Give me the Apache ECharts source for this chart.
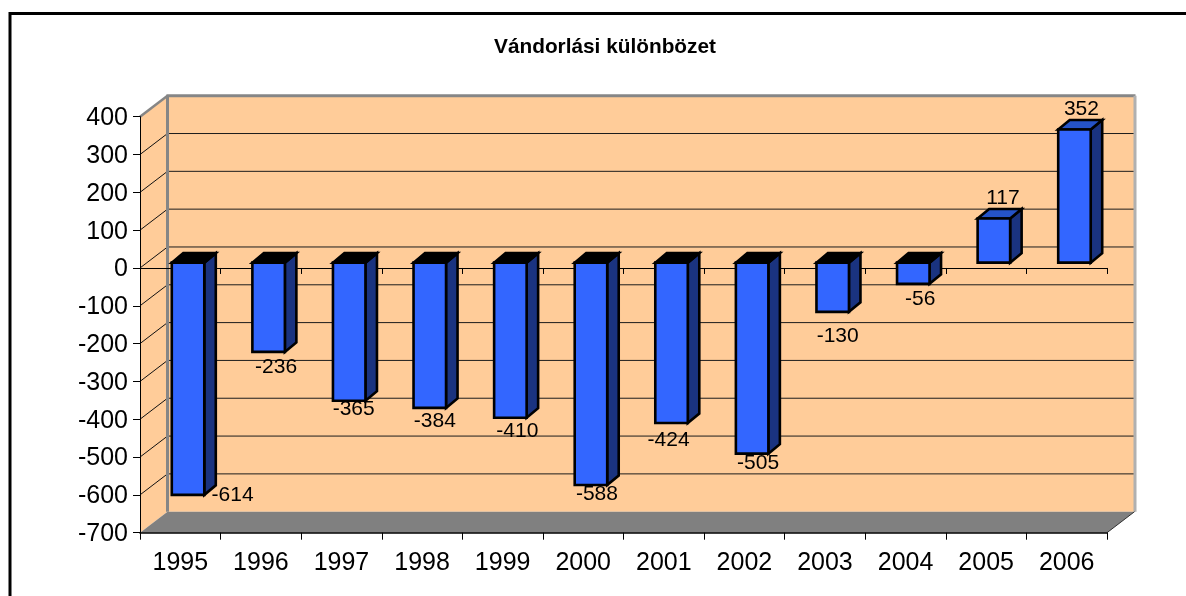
<!DOCTYPE html>
<html>
<head>
<meta charset="utf-8">
<style>html,body{margin:0;padding:0;background:#fff}#c{width:1186px;height:596px}</style>
<script src="https://cdn.jsdelivr.net/npm/echarts@6/dist/echarts.min.js"></script>
</head>
<body>
<div id="c"></div>
<script>
const titleText = 'Vándorlási különbözet';
const years = ['1995','1996','1997','1998','1999','2000','2001','2002','2003','2004','2005','2006'];
const migration = [-614,-236,-365,-384,-410,-588,-424,-505,-130,-56,117,352];
const yTicks = [400,300,200,100,0,-100,-200,-300,-400,-500,-600,-700];

// Layout of the pseudo-3D look (not data)
const FONT = '"Liberation Sans", Arial, sans-serif';
const WALL = {dx: 27.5, dy: -21};
const BAR = {left: -8.5, width: 32.5, dx: 11.5, dy: -9.5, lift: -5.3};
const labelShift = [[44.5,0],[7.5,15],[4.5,8],[5,13],[7,13],[6,9],[-3,17],[6,10],[5,24],[7,15],[9,-20],[7,-20]];
const COLORS = {wall:'#FFCC99', floor:'#808080', frame:'#868686', front:'#3366FF', sideDark:'#1A3380', topPos:'#2553C8', topNeg:'#000000', grid:'#1c1c1c'};

function poly(points, fill, stroke, lw, z2) {
  return {type:'polygon', shape:{points}, z2:z2||0, style:{fill, stroke:stroke||'none', lineWidth:lw||0, lineJoin:'miter'}};
}
function line(a, b, stroke, lw, z2) {
  return {type:'line', shape:{x1:a[0],y1:a[1],x2:b[0],y2:b[1]}, z2:z2||0, style:{stroke, lineWidth:lw, fill:'none'}};
}

function renderWalls(params, api) {
  const g = params.coordSys;
  const x0=g.x, x1=g.x+g.width, yT=g.y, yB=g.y+g.height;
  const bx0=x0+WALL.dx, bx1=x1+WALL.dx, byT=yT+WALL.dy, byB=yB+WALL.dy;
  return {type:'group', children:[
    poly([[bx0,byT],[bx1,byT],[bx1,byB],[bx0,byB]], COLORS.wall),
    poly([[x0,yT],[bx0,byT],[bx0,byB],[x0,yB]], COLORS.wall),
    poly([[x0,yB],[bx0,byB],[bx1,byB],[x1,yB]], COLORS.floor),
    line([bx0,byT],[bx0,byB],COLORS.frame,3,3),
    line([bx0-1,byT],[bx1+1,byT],COLORS.frame,3,3),
    line([x0,yT],[bx0,byT],COLORS.frame,2.5,3),
    line([bx1+0.5,byT],[bx1+0.5,byB],'#b0b0b0',3,3),
    line([x1,yB],[bx1,byB],'#333333',1,3)
  ]};
}

function renderGrid(params, api) {
  const g = params.coordSys;
  const v = api.value(1);
  const y = api.coord([0, v])[1];
  const kids = [];
  if (v > -700 && v < 400) {
    kids.push(line([g.x+WALL.dx, y+WALL.dy],[g.x+g.width+WALL.dx, y+WALL.dy],COLORS.grid,1,1));
    kids.push(line([g.x, y],[g.x+WALL.dx, y+WALL.dy],'#111',1,1));
  }
  return {type:'group', children:kids};
}

function renderBars(params, api) {
  const i = api.value(0), v = api.value(1);
  const c = api.coord([i, v]);
  const base = api.coord([i, 0]);
  const xl = c[0]+BAR.left, xr = xl+BAR.width;
  const yBase = base[1]+BAR.lift, yEnd = c[1]+BAR.lift;
  const yTop = Math.min(yBase,yEnd), yBot = Math.max(yBase,yEnd);
  const dx = BAR.dx, dy = BAR.dy;
  const st = {stroke:'#000', lw:2.6};
  const shift = labelShift[params.dataIndex];
  return {type:'group', children:[
    poly([[xr,yTop],[xr+dx,yTop+dy],[xr+dx,yBot+dy],[xr,yBot]], COLORS.sideDark, st.stroke, st.lw),
    poly([[xl,yTop],[xl+dx,yTop+dy],[xr+dx,yTop+dy],[xr,yTop]], v<0?COLORS.topNeg:COLORS.topPos, st.stroke, st.lw),
    poly([[xl,yTop],[xr,yTop],[xr,yBot],[xl,yBot]], COLORS.front, st.stroke, st.lw),
    {type:'text', z2:5, style:{
      x:(xl+xr)/2+shift[0], y:yEnd+shift[1], text:String(v), fill:'#000',
      font:'21px '+FONT, textAlign:'center', textVerticalAlign:'middle'
    }}
  ]};
}

const chart = echarts.init(document.getElementById('c'), null, {renderer:'canvas'});
chart.setOption({
  animation:false,
  backgroundColor:'#ffffff',
  title:{text:titleText, left:600, top:32, textAlign:'center',
    textStyle:{fontFamily:FONT, fontSize:20.8, fontWeight:'bold', color:'#000'}},
  graphic:[{type:'polyline', z:10, shape:{points:[[10,596],[10,13.5],[1186,13.5]]},
    style:{stroke:'#000', lineWidth:3, fill:'none'}}],
  grid:{left:140, top:116.7, width:967, height:416, containLabel:false},
  xAxis:[
    {type:'category', data:years, position:'bottom', z:1,
     axisLine:{onZero:false, lineStyle:{color:'#000', width:1.5}},
     axisTick:{show:true, length:7, lineStyle:{color:'#000', width:1}},
     axisLabel:{show:true, interval:0, margin:18, fontFamily:FONT, fontSize:25, color:'#000'},
     splitLine:{show:false}},
    {type:'category', data:years, position:'top', z:1,
     axisLine:{onZero:true, lineStyle:{color:'#000', width:1}},
     axisTick:{show:true, inside:true, length:6, lineStyle:{color:'#000', width:1}},
     axisLabel:{show:false}, splitLine:{show:false}}
  ],
  yAxis:{type:'value', min:-700, max:400, interval:100, z:1,
    axisLine:{show:true, lineStyle:{color:'#000', width:1}},
    axisTick:{show:true, length:7, lineStyle:{color:'#000', width:1}},
    axisLabel:{margin:12, verticalAlign:'top', lineHeight:3, fontFamily:FONT, fontSize:25, color:'#000'},
    splitLine:{show:false}},
  series:[
    {type:'custom', name:'walls', z:0, silent:true, renderItem:renderWalls, data:[[0,0]], encode:{x:0,y:1}},
    {type:'custom', name:'grid', z:0, silent:true, renderItem:renderGrid, data:yTicks.map(t=>[0,t]), encode:{x:0,y:1}},
    {type:'custom', name:'Vándorlási különbözet', z:3, renderItem:renderBars, data:migration.map((v,i)=>[i,v]), encode:{x:0,y:1}}
  ]
});
</script>
</body>
</html>
